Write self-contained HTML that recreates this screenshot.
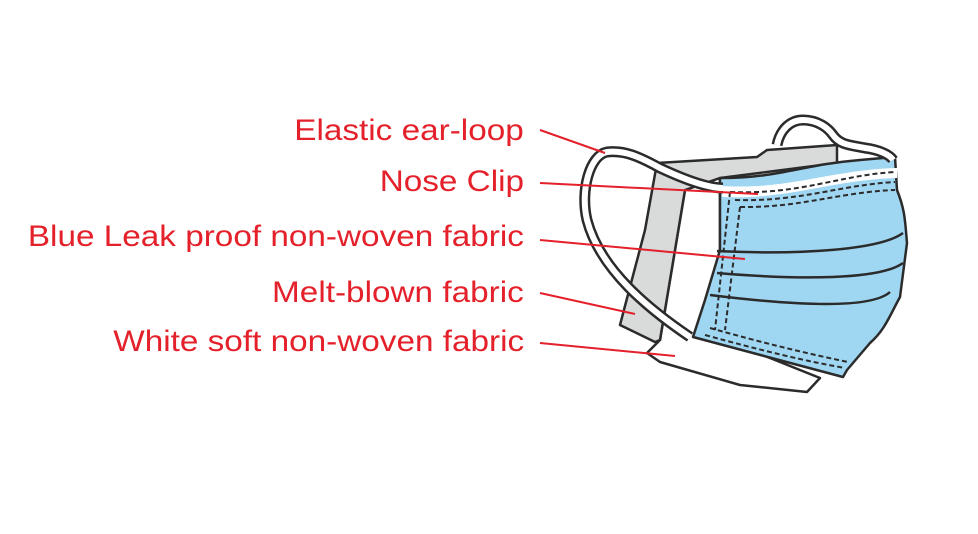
<!DOCTYPE html>
<html><head><style>
body{margin:0;background:#fff;width:978px;height:534px;overflow:hidden}
.t{position:absolute;right:454px;font:30px "Liberation Sans",sans-serif;color:#e4202a;white-space:nowrap;line-height:1;transform:scaleX(1.11);transform-origin:right center}
</style></head><body>
<div class="t" style="top:116px">Elastic ear-loop</div>
<div class="t" style="top:167px">Nose Clip</div>
<div class="t" style="top:222px">Blue Leak proof non-woven fabric</div>
<div class="t" style="top:278px">Melt-blown fabric</div>
<div class="t" style="top:327px">White soft non-woven fabric</div>
<svg width="978" height="534" style="position:absolute;left:0;top:0">
<g stroke="#2b2b2b" stroke-width="2.5" stroke-linejoin="round">
<path d="M685,190 L720,178 L720,260 L700,330 L820,378 L807,392 L740,385 L660,362 L647,353 L660,340 Z" fill="#fff"/>
<path d="M657,163 L757,157 L767,150 L837,145 L837,163 L720,178 L685,190 L660,340 L655,342 L620,325 L645,230 Z" fill="#d9dbdb"/>
<path d="M720,178 C780,178 800,165 860,160 L895,157 L897,190 C905,210 905,220 907,243 L900,297 C890,315 885,330 870,343 L847,370 L843,377 L693,337 L705,300 L720,250 Z" fill="#9fd6f1"/>
<path d="M722,186 C790,190 830,170 897,168 L897,178 C830,180 790,200 722,197 Z" fill="#fff" stroke="none"/>
<path d="M717,251 C800,255 880,250 903,233 M717,273 C800,280 880,280 903,263 M710,295 C790,305 870,310 890,292" fill="none"/>
<g fill="none" stroke-dasharray="5,3" stroke-width="2">
<path d="M730,192 C800,195 840,175 895,172 M735,200 C800,202 840,185 895,182 M740,207 C800,208 840,192 895,190"/>
<path d="M730,192 L715,330 M740,207 L725,330"/>
<path d="M705,335 C760,350 800,360 845,368 M710,328 C760,342 800,352 848,362"/>
</g>
<path d="M690,337 C650,310 600,270 587,220 C580,190 590,155 607,152 C625,150 640,157 660,168 C690,182 710,188 723,188" fill="none" stroke-width="11"/>
<path d="M690,337 C650,310 600,270 587,220 C580,190 590,155 607,152 C625,150 640,157 660,168 C690,182 710,188 723,188" fill="none" stroke="#fff" stroke-width="6"/>
<path d="M777,145 C780,130 790,120 803,120 C818,120 828,128 833,135 C840,145 850,145 865,148 C880,150 890,155 893,160" fill="none" stroke-width="11"/>
<path d="M777,145 C780,130 790,120 803,120 C818,120 828,128 833,135 C840,145 850,145 865,148 C880,150 890,155 893,160" fill="none" stroke="#fff" stroke-width="6"/>
</g>
<g stroke="#e4202a" stroke-width="2">
<line x1="540" y1="130" x2="605" y2="153"/>
<line x1="540" y1="183" x2="758" y2="194"/>
<line x1="540" y1="240" x2="745" y2="259"/>
<line x1="540" y1="293" x2="635" y2="314"/>
<line x1="540" y1="343" x2="675" y2="356"/>
</g>
</svg>
</body></html>
